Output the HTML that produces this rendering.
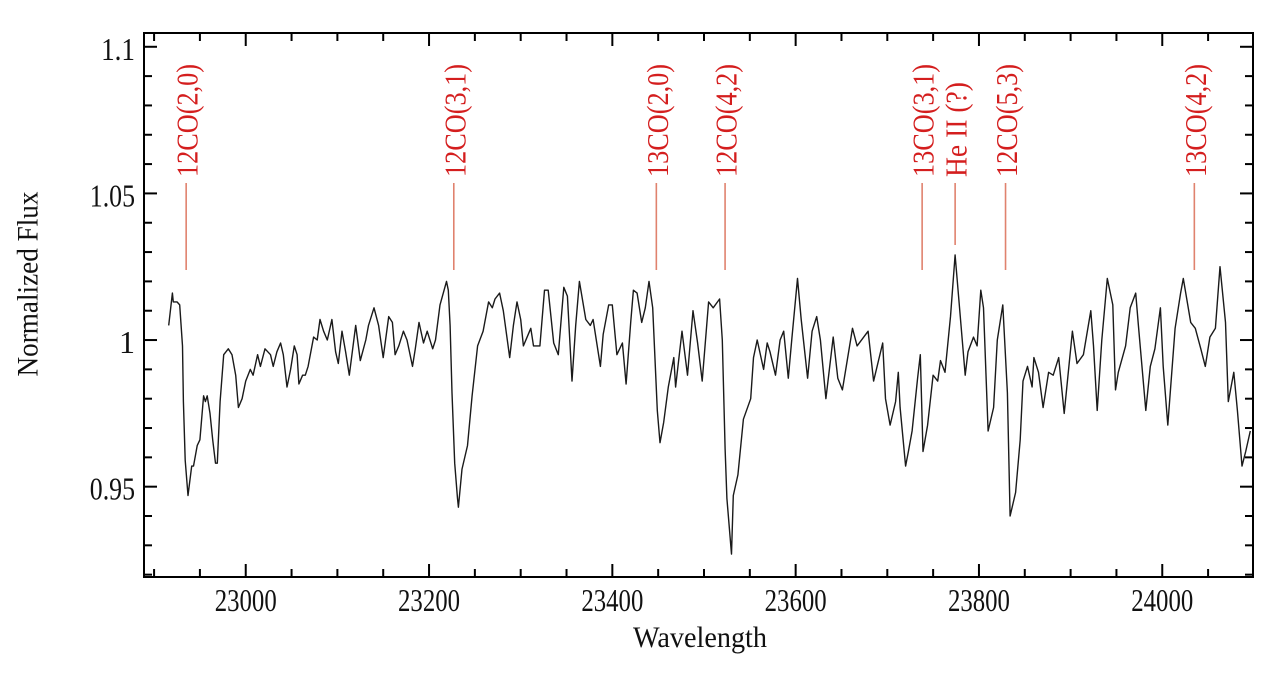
<!DOCTYPE html>
<html><head><meta charset="utf-8"><style>
html,body{margin:0;padding:0;background:#fff;}
svg{display:block;font-family:"Liberation Serif",serif;}
</style></head><body>
<svg id="chart" width="1280" height="682" viewBox="0 0 1280 682" xmlns="http://www.w3.org/2000/svg">
<rect x="0" y="0" width="1280" height="682" fill="#fff"/>
<g id="ticks"></g>
<g id="marks"></g>
<path id="spec" fill="none" stroke="#1a1a1a" stroke-width="1.4" stroke-linejoin="round"/>
<rect x="144" y="33" width="1109" height="544" fill="none" stroke="#000" stroke-width="2"/>
<text x="28" y="284" transform="rotate(-90 28 284)" text-anchor="middle" dominant-baseline="central" font-size="30" textLength="185" lengthAdjust="spacingAndGlyphs" fill="#111">Normalized Flux</text>
<text x="700" y="647" text-anchor="middle" font-size="30" textLength="134" lengthAdjust="spacingAndGlyphs" fill="#111">Wavelength</text>
</svg>
<script>
const wavelengths = [22916,22920,22921,22925,22928,22931,22932,22934,22937,22941,22943,22947,22950,22954,22956,22958,22961,22964,22967,22969,22972,22976,22981,22985,22989,22992,22996,23000,23005,23008,23013,23016,23021,23027,23030,23034,23038,23041,23045,23049,23053,23056,23058,23062,23065,23068,23074,23078,23081,23085,23089,23094,23098,23101,23105,23109,23113,23120,23125,23131,23134,23140,23145,23150,23156,23160,23163,23167,23172,23176,23182,23185,23189,23194,23198,23204,23207,23212,23219,23221,23223,23225,23228,23231,23232,23236,23242,23247,23253,23259,23265,23269,23272,23277,23281,23288,23292,23296,23300,23303,23311,23314,23321,23326,23330,23336,23341,23347,23351,23356,23360,23364,23371,23376,23379,23387,23390,23396,23400,23405,23411,23415,23420,23423,23427,23432,23436,23440,23444,23449,23452,23456,23461,23467,23469,23476,23482,23488,23493,23498,23505,23510,23517,23520,23523,23525,23530,23532,23537,23543,23551,23554,23558,23565,23569,23572,23578,23583,23587,23592,23596,23602,23606,23613,23618,23623,23627,23633,23641,23646,23651,23662,23667,23679,23685,23695,23698,23703,23709,23712,23714,23720,23723,23727,23733,23736,23739,23744,23750,23755,23758,23763,23769,23774,23778,23785,23788,23794,23798,23802,23805,23810,23816,23820,23826,23831,23834,23840,23845,23848,23853,23858,23860,23865,23870,23876,23881,23887,23893,23902,23907,23914,23922,23925,23929,23934,23940,23946,23949,23952,23960,23965,23971,23974,23982,23987,23992,23998,24001,24006,24014,24020,24023,24031,24036,24042,24047,24052,24058,24063,24069,24072,24078,24082,24087,24091,24096];
const fluxes = [1.005,1.016,1.013,1.013,1.012,0.998,0.979,0.959,0.947,0.957,0.957,0.964,0.966,0.981,0.979,0.981,0.975,0.966,0.958,0.958,0.979,0.995,0.997,0.995,0.988,0.977,0.980,0.986,0.990,0.988,0.995,0.991,0.997,0.995,0.991,0.996,0.999,0.995,0.984,0.990,0.998,0.995,0.985,0.988,0.988,0.991,1.001,1.000,1.007,1.003,1.000,1.007,0.996,0.992,1.003,0.996,0.988,1.005,0.993,1.000,1.005,1.011,1.005,0.994,1.008,1.006,0.995,0.998,1.003,1.000,0.991,0.997,1.006,0.999,1.003,0.997,1.000,1.012,1.020,1.017,1.005,0.982,0.958,0.946,0.943,0.956,0.964,0.981,0.998,1.003,1.013,1.011,1.014,1.016,1.010,0.994,1.005,1.013,1.007,0.998,1.004,0.998,0.998,1.017,1.017,0.999,0.995,1.018,1.015,0.986,1.005,1.020,1.007,1.005,1.007,0.991,1.002,1.012,1.012,0.995,0.999,0.985,1.006,1.017,1.016,1.006,1.011,1.020,1.011,0.976,0.965,0.972,0.984,0.994,0.984,1.003,0.988,1.010,0.999,0.986,1.013,1.011,1.014,1.000,0.963,0.946,0.927,0.947,0.954,0.973,0.980,0.994,1.000,0.990,0.999,0.996,0.988,1.000,1.003,0.987,1.001,1.021,1.007,0.987,1.003,1.008,1.000,0.980,1.001,0.987,0.983,1.004,0.998,1.003,0.986,0.999,0.980,0.971,0.979,0.989,0.977,0.957,0.962,0.969,0.987,0.995,0.962,0.971,0.988,0.986,0.993,0.989,1.008,1.029,1.014,0.988,0.996,1.001,0.998,1.017,1.011,0.969,0.977,1.000,1.012,0.982,0.940,0.948,0.966,0.986,0.991,0.984,0.994,0.989,0.977,0.989,0.988,0.994,0.975,1.003,0.992,0.995,1.010,0.998,0.976,1.000,1.021,1.012,0.983,0.989,0.998,1.011,1.016,1.005,0.976,0.991,0.997,1.011,0.991,0.971,1.004,1.016,1.021,1.006,1.004,0.997,0.991,1.001,1.004,1.025,1.006,0.979,0.989,0.976,0.957,0.962,0.969];
const xTicks = [23000,23200,23400,23600,23800,24000];
const xTickLabels = ["23000","23200","23400","23600","23800","24000"];
const yTicks = [0.95,1,1.05,1.1];
const yTickLabels = ["0.95","1","1.05","1.1"];
const lineNames = ["12CO(2,0)","12CO(3,1)","13CO(2,0)","12CO(4,2)","13CO(3,1)","He II (?)","12CO(5,3)","13CO(4,2)"];
const lineWaves = [22935,23227,23448,23523,23738,23774,23829,24035];

const NS="http://www.w3.org/2000/svg";
const X0=144,X1=1253,Y0=33,Y1=577;
const xMin=22889,xMax=24099,yMin=0.9192,yMax=1.1047;
function xs(v){return X0+(v-xMin)/(xMax-xMin)*(X1-X0);}
function ys(v){return Y1-(v-yMin)/(yMax-yMin)*(Y1-Y0);}
function mk(tag,attrs,parent){const e=document.createElementNS(NS,tag);for(const k in attrs)e.setAttribute(k,attrs[k]);parent.appendChild(e);return e;}

const tg=document.getElementById('ticks');
for(let v=22900;v<=24090;v+=50){
  const major=xTicks.includes(v);const L=major?13:8;const x=xs(v);
  let t=mk('line',{x1:x,x2:x,y1:Y1,y2:Y1-L,stroke:'#000','stroke-width':2},tg);
  
  
  t=mk('line',{x1:x,x2:x,y1:Y0,y2:Y0+L,stroke:'#000','stroke-width':2},tg);
  
  
}
xTicks.forEach((v,i)=>{
  const t=mk('text',{x:xs(v),y:611,'text-anchor':'middle','font-size':32,textLength:62,lengthAdjust:'spacingAndGlyphs',fill:'#111'},tg);
  t.textContent=xTickLabels[i];
  
  
});
for(let k=92;k<=110;k++){
  const v=k/100;const major=(k%5===0);const L=major?13:8;const y=ys(v);
  let t=mk('line',{x1:X0,x2:X0+L,y1:y,y2:y,stroke:'#000','stroke-width':2},tg);
  
  
  t=mk('line',{x1:X1,x2:X1-L,y1:y,y2:y,stroke:'#000','stroke-width':2},tg);
  
  
}
yTicks.forEach((v,i)=>{
  const s=yTickLabels[i];
  const t=mk('text',{x:135,y:ys(v)+2,'text-anchor':'end','dominant-baseline':'central','font-size':32,fill:'#111'},tg);
  t.textContent=s;
  if(s.length>1){t.setAttribute('textLength',s.length*11.3);t.setAttribute('lengthAdjust','spacingAndGlyphs');}
  
  
});

const mg=document.getElementById('marks');
lineNames.forEach((n,i)=>{
  const x=xs(lineWaves[i]);
  const bottom=(n.indexOf('He')===0)?245:270;
  const l=mk('line',{x1:x,x2:x,y1:183,y2:bottom,stroke:'#e0826e','stroke-width':1.6},mg);
  
  
  const lab=mk('text',{x:0,y:0,transform:'translate('+(x+1)+',177) rotate(-90)','text-anchor':'start','dominant-baseline':'central','font-size':31,fill:'#d41e1e',textLength:(n.indexOf('He')===0?95:113),lengthAdjust:'spacingAndGlyphs'},mg);
  lab.textContent=n;
  
  
});

let d='';
wavelengths.forEach((w,i)=>{d+=(i?'L':'M')+xs(w).toFixed(1)+','+ys(fluxes[i]).toFixed(1);});
document.getElementById('spec').setAttribute('d',d);
</script>
</body></html>
